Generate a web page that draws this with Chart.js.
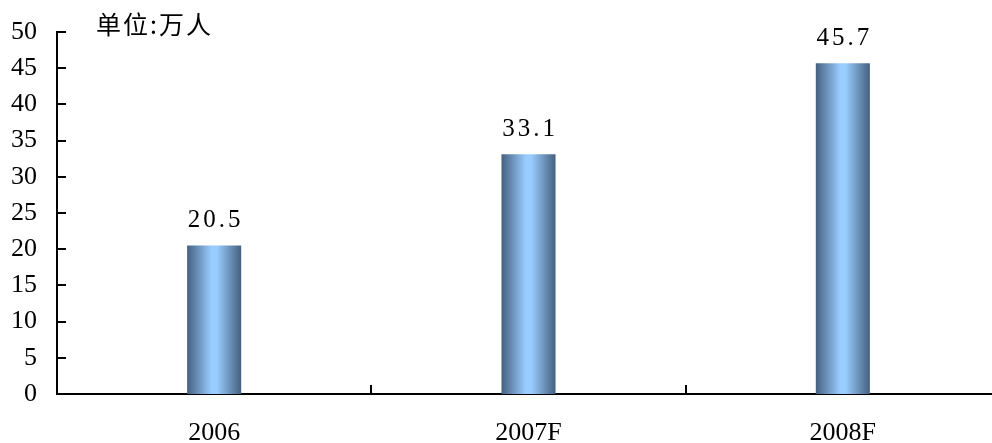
<!DOCTYPE html>
<html>
<head>
<meta charset="utf-8">
<script src="https://cdn.jsdelivr.net/npm/chart.js@4/dist/chart.umd.min.js"></script>
<style>
  html, body { margin: 0; padding: 0; background: #fff; overflow: hidden; }
  #wrap { width: 1000px; height: 443px; position: relative; }
</style>
</head>
<body>
<div id="wrap"><canvas id="c"></canvas></div>
<script>
const categories = ['2006', '2007F', '2008F'];
const values = [20.5, 33.1, 45.7];
const yTicks = [0, 5, 10, 15, 20, 25, 30, 35, 40, 45, 50];
const unitLabel = '单位:万人';

const SERIF = '"Liberation Serif", "DejaVu Serif", serif';
const CJK = '"Noto Sans CJK SC", sans-serif';

function barGradient(ctx) {
  const chart = ctx.chart;
  const xs = chart.scales.x;
  if (!xs || ctx.dataIndex === undefined) return '#8fb8e6';
  const cx = xs.getPixelForValue(ctx.dataIndex);
  const w = (xs.width / categories.length) * 0.172;
  if (!isFinite(cx) || !isFinite(w) || w <= 0) return '#8fb8e6';
  const g = chart.ctx.createLinearGradient(cx - w / 2, 0, cx + w / 2, 0);
  g.addColorStop(0, '#45607f');
  g.addColorStop(0.45, '#99ccff');
  g.addColorStop(0.55, '#99ccff');
  g.addColorStop(1, '#45607f');
  return g;
}

const decorPlugin = {
  id: 'decor',
  afterDraw(chart) {
    const c = chart.ctx;
    const ys = chart.scales.y;
    const a = chart.chartArea;
    c.save();
    c.strokeStyle = '#000';
    c.lineWidth = 2;
    yTicks.forEach(v => {
      const y = Math.round(ys.getPixelForValue(v));
      c.beginPath();
      c.moveTo(a.left - 1, y);
      c.lineTo(a.left + 9, y);
      c.stroke();
    });
    for (let i = 1; i < categories.length; i++) {
      const x = Math.round(a.left + (a.right - a.left) * i / categories.length);
      c.beginPath();
      c.moveTo(x, a.bottom);
      c.lineTo(x, a.bottom - 9);
      c.stroke();
    }
    c.fillStyle = '#000';
    c.font = '25px ' + SERIF;
    c.letterSpacing = '3px';
    c.textAlign = 'center';
    c.textBaseline = 'middle';
    const meta = chart.getDatasetMeta(0);
    meta.data.forEach((el, i) => {
      c.fillText(values[i].toFixed(1), el.x + 1.5, el.y - 25);
    });
    c.font = '25px ' + CJK;
    c.letterSpacing = '2px';
    c.textAlign = 'left';
    c.fillText(unitLabel, 96, 24);
    c.restore();
  }
};

new Chart(document.getElementById('c'), {
  type: 'bar',
  data: {
    labels: categories,
    datasets: [{
      data: values,
      backgroundColor: barGradient,
      borderWidth: 0,
      barPercentage: 0.172,
      categoryPercentage: 1.0
    }]
  },
  options: {
    responsive: true,
    maintainAspectRatio: false,
    animation: false,
    layout: { padding: { top: 32, right: 0, left: 0, bottom: 0 } },
    plugins: { legend: { display: false }, tooltip: { enabled: false } },
    scales: {
      x: {
        grid: { display: false, drawTicks: false },
        border: { display: true, color: '#000', width: 2 },
        ticks: { color: '#000', font: { family: SERIF, size: 26 }, padding: 24, maxRotation: 0 },
        afterFit(s) { s.height = 49; s.paddingLeft = 0; s.paddingRight = 0; }
      },
      y: {
        min: 0, max: 50,
        grid: { display: false, drawTicks: false },
        border: { display: true, color: '#000', width: 2 },
        ticks: { stepSize: 5, color: '#000', font: { family: SERIF, size: 26 }, padding: 20 },
        afterFit(s) { s.width = 57; s.paddingTop = 0; s.paddingBottom = 0; }
      }
    }
  },
  plugins: [decorPlugin]
});
</script>
</body>
</html>
